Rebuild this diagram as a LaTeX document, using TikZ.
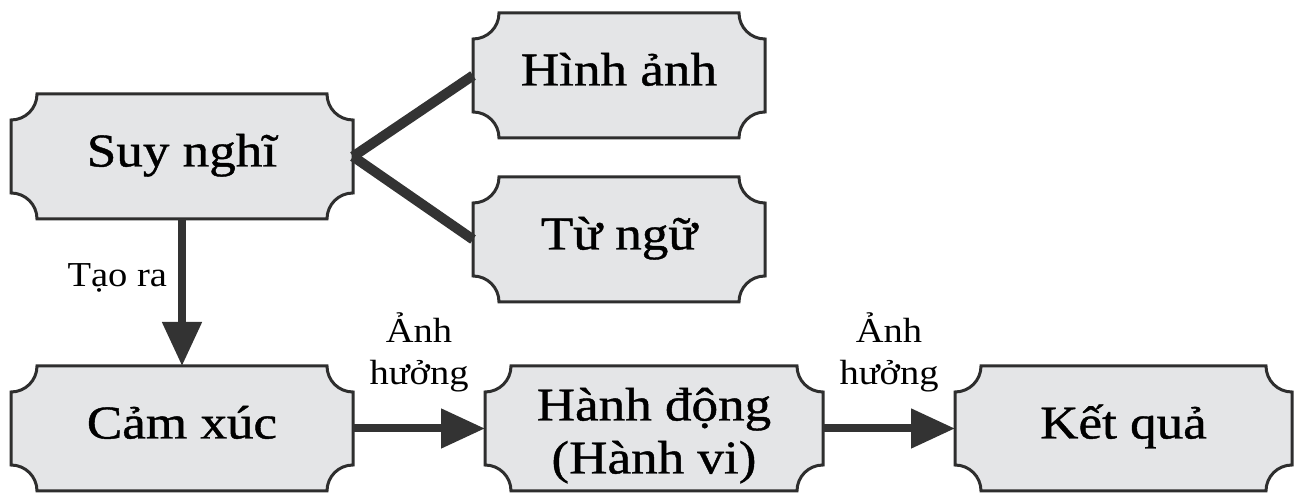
\documentclass[tikz,border=0pt]{standalone}
\usepackage{fontspec}
\setmainfont{Liberation Serif}[FakeStretch=1.1]
\newfontfamily\boxfont{Liberation Serif}[FakeStretch=1.13, FakeBold=0.9]
\usetikzlibrary{arrows.meta,backgrounds}
\definecolor{boxfill}{HTML}{E4E5E7}
\definecolor{boxline}{HTML}{2E2E2E}
\definecolor{conn}{HTML}{333333}
\tikzset{
  stage/.style={minimum width=#1, minimum height=125pt, inner sep=0pt, outer sep=0pt,
    font=\boxfont\fontsize{47}{53}\selectfont, text height=34pt, text depth=14pt},
  arr/.style={draw=conn, line width=8pt, -{Triangle[length=44pt,width=38pt]}},
  link/.style={draw=conn, line width=10pt},
  lbl/.style={inner sep=0pt, font=\fontsize{35}{42}\selectfont, align=center},
  outline/.style={fill=boxfill, draw=boxline, line width=3pt}
}
\begin{document}
\begin{tikzpicture}[x=1pt,y=1pt]
\useasboundingbox (0,0) rectangle (1301,494);
\node[stage=342pt] (suy) at (182,337.5) {Suy nghĩ};
\node[stage=292pt] (hinh) at (619,418.5) {Hình ảnh};
\node[stage=292pt] (tu) at (619,254.5) {Từ ngữ};
\node[stage=342pt] (cam) at (182,65.5) {Cảm xúc};
\node[stage=338pt, align=center, text height=95pt, text depth=5pt] (hanh) at (654,65.5) {Hành động\\(Hành vi)};
\node[stage=337pt] (ket) at (1123.5,65.5) {Kết quả};
\begin{scope}[on background layer]
\foreach \n in {suy,hinh,tu,cam,hanh,ket}{
  \path[outline] ([xshift=26pt]\n.north west) -- ([xshift=-26pt]\n.north east)
    .. controls +(0,-14.4) and +(-14.4,0) .. ([yshift=-26pt]\n.north east)
    -- ([yshift=26pt]\n.south east)
    .. controls +(-14.4,0) and +(0,14.4) .. ([xshift=-26pt]\n.south east)
    -- ([xshift=26pt]\n.south west)
    .. controls +(0,14.4) and +(14.4,0) .. ([yshift=26pt]\n.south west)
    -- ([yshift=-26pt]\n.north west)
    .. controls +(14.4,0) and +(0,-14.4) .. ([xshift=26pt]\n.north west)
    -- cycle;
}
\end{scope}
\draw[link] (suy.east) -- (hinh.west);
\draw[link] (suy.east) -- (tu.west);
\draw[arr] (suy.south) -- node[lbl, pos=0.456, anchor=base east, xshift=-11pt] {Tạo ra} (cam.north);
\draw[arr] (cam.east) -- node[lbl, anchor=south, yshift=32pt] {Ảnh\\hưởng} (hanh.west);
\draw[arr] (hanh.east) -- node[lbl, anchor=south, yshift=32pt] {Ảnh\\hưởng} (ket.west);
\end{tikzpicture}
\end{document}
